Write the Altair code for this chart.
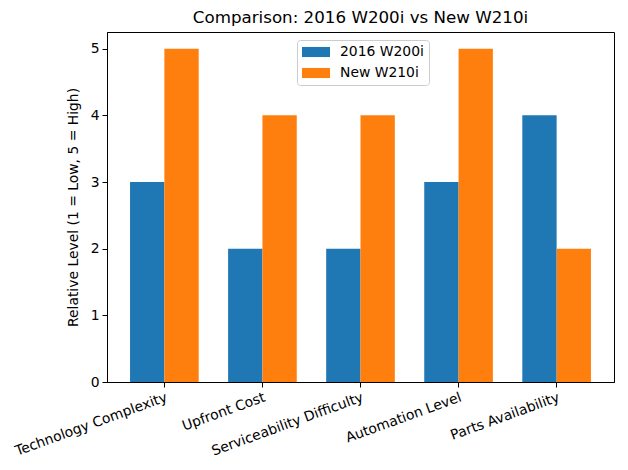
import altair as alt
import pandas as pd

categories = ["Technology Complexity", "Upfront Cost", "Serviceability Difficulty",
              "Automation Level", "Parts Availability"]
series_names = ["2016 W200i", "New W210i"]
w200i = [3, 2, 2, 3, 4]
w210i = [5, 4, 4, 5, 2]
colors = ["#1f77b4", "#ff7f0e"]

rows = []
for c, a, b in zip(categories, w200i, w210i):
    rows.append({"category": c, "series": series_names[0], "value": a})
    rows.append({"category": c, "series": series_names[1], "value": b})
df = pd.DataFrame(rows)

FONT = "DejaVu Sans"
FS = 13.9

chart = alt.Chart(df).mark_bar().encode(
    x=alt.X("category:N", sort=categories,
            scale=alt.Scale(paddingInner=0.3, paddingOuter=0.235),
            axis=alt.Axis(title=None, labelAngle=-20, labelAlign="right",
                          labelBaseline="top", labelFontSize=FS, labelColor="black",
                          labelFont=FONT, tickColor="black", domainColor="black",
                          tickSize=5, labelPadding=3, labelOverlap=False)),
    xOffset=alt.XOffset("series:N", sort=series_names,
                        scale=alt.Scale(paddingInner=0, paddingOuter=0)),
    y=alt.Y("value:Q", scale=alt.Scale(domain=[0, 5.25], nice=False),
            axis=alt.Axis(title="Relative Level (1 = Low, 5 = High)", values=[0, 1, 2, 3, 4, 5],
                          grid=False, labelFontSize=FS, labelColor="black", labelFont=FONT,
                          titleFont=FONT, titleFontSize=FS, titleFontWeight="normal",
                          titleColor="black", tickColor="black", domainColor="black",
                          tickSize=5, labelPadding=3, titlePadding=10, format="d")),
    color=alt.Color("series:N", sort=series_names,
                    scale=alt.Scale(domain=series_names, range=colors),
                    legend=alt.Legend(title=None, orient="none", legendX=190, legendY=8,
                                      fillColor="white", strokeColor="#cccccc",
                                      cornerRadius=3, padding=5,
                                      symbolType="M-2,-0.72L2,-0.72L2,0.72L-2,0.72Z",
                                      symbolSize=196, symbolStrokeWidth=0,
                                      symbolOpacity=1, symbolOffset=7,
                                      labelFontSize=FS, labelFont=FONT, labelColor="black",
                                      rowPadding=7, labelOffset=17)),
).properties(
    width=507,
    height=350,
    title=alt.TitleParams("Comparison: 2016 W200i vs New W210i", fontSize=16.7,
                          font=FONT, fontWeight="normal", color="black", offset=5),
    autosize=alt.AutoSizeParams(type="none"),
    padding={"left": 99, "top": 24, "right": 6, "bottom": 80},
).configure_view(stroke="black", strokeWidth=1)

chart.save("out.html", embed_options={"renderer": "svg", "actions": False})
